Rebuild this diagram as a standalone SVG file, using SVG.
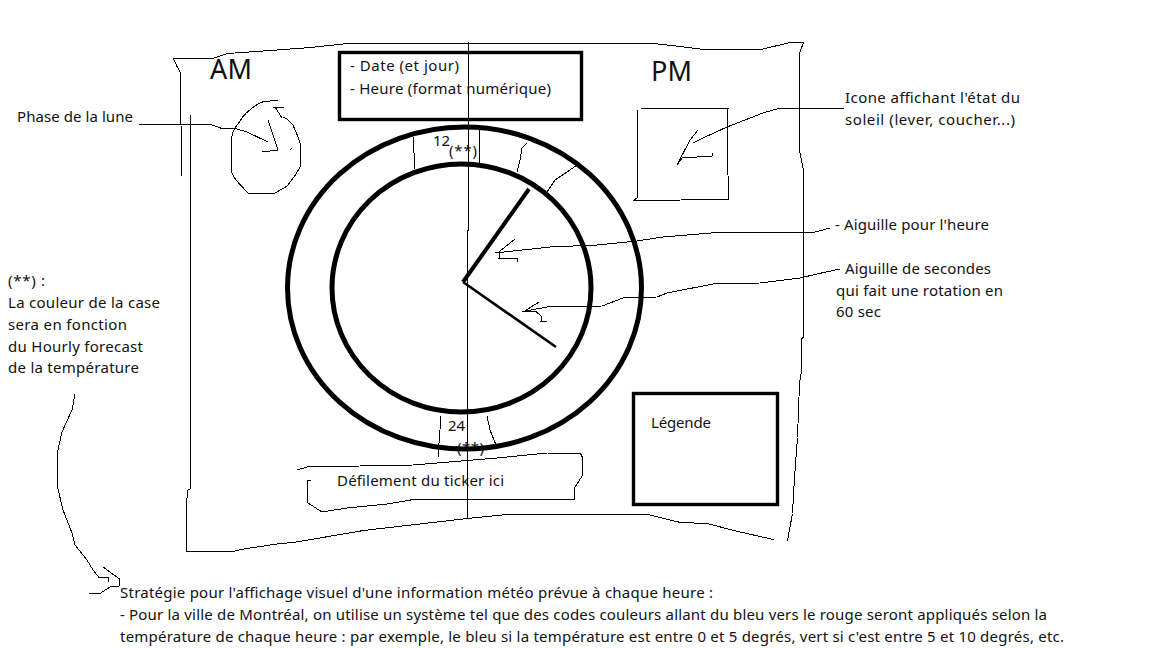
<svg xmlns="http://www.w3.org/2000/svg" width="1152" height="648" viewBox="0 0 1152 648">
<style>
.s{fill:none;stroke:#000;stroke-width:1;stroke-linejoin:round;stroke-linecap:round;shape-rendering:crispEdges}
.r{fill:none;stroke:#000;stroke-width:3.4}
.ring{fill:none;stroke:#000;stroke-width:5}
text{font-family:"Noto Sans","Open Sans","Liberation Sans",sans-serif;font-size:15px;fill:#111}
.big{font-size:27px}
</style>
<rect width="1152" height="648" fill="#fff"/>
<g id="frame">
<path class="s" d="M173.500 58.500L212.500 58.500L227.500 53.500L270.500 50.500L310.500 47.500L347.500 43.500L653.500 43.500L680.500 46.500L703.500 49.500L760.500 49.500L790.500 42.500L803.500 42.500L799.500 53.500L799.500 150.500L803.500 170.500L803.500 337.500L801.500 338.500L801.500 370.500L799.500 383.500L797.500 437.500L794.500 477.500L792.500 513.500L787.500 540.500"/>
<path class="s" d="M560.500 514.500L647.500 514.500L680.500 522.500L707.500 523.500L733.500 530.500L773.500 539.500"/>
<path class="s" d="M173.500 58.500L176.500 65.500L180.500 72.500L181.500 175.500"/>
<path class="s" d="M190.500 115.500L190.500 488.500L187.500 490.500L186.500 505.500L186.500 551.500L233.500 551.500L240.500 549.500L280.500 543.500L293.500 542.500L363.500 530.500L467.500 518.500L507.500 514.500L560.500 514.500"/>
<path class="s" d="M468.500 42.500L468.500 230.500L467.500 230.500L467.500 518.500"/>
<text class="big" x="210" y="79" textLength="42">AM</text>
<text class="big" x="651" y="81" textLength="41">PM</text>
</g>
<g id="date-box">
<rect class="r" x="339.5" y="52.5" width="242" height="67"/>
<text x="350" y="71" textLength="109">- Date (et jour)</text>
<text x="350" y="94" textLength="201">- Heure (format numérique)</text>
</g>
<g id="moon">
<path class="s" d="M278 101C270 101 263 100 258 104C250 109 244 114 240 121C237 126 232 130 232 136C231 147 232 160 232 173C234 180 243 187 248 193C256 194 266 194 275 193C280 190 285 188 288 185C293 179 297 173 300 167C301 159 300 151 300 143C298 136 295 130 293 125C290 122 287 118 283 117"/>
<path class="s" d="M273 107L284 107M275 107L282 118M290 150L292 148"/>
</g>
<g id="sun-icon">
<path class="s" d="M641.500 108.500L728.500 108.500M637.500 110.500L637.500 197.500L633.500 200.500L728.500 199.500L727.500 150.500L727.500 108.500"/>
</g>
<g id="clock">
<ellipse class="ring" cx="464.5" cy="288" rx="177" ry="161"/>
<ellipse class="ring" cx="461.5" cy="288" rx="129.5" ry="124"/>
<path class="s" d="M413.500 137.500L414.500 168.500M479.500 129.500L479.500 163.500M527 143L522 148L520 160L517 172M577 165L567 172L555 180L547 192M441 416L438 457M487 416L490 430L496 445"/>
<text x="433" y="146">12</text>
<text x="449" y="156" textLength="28">(**)</text>
<text x="448" y="431">24</text>
<text x="457" y="452.5" textLength="27">(**)</text>
</g>
<g id="hands">
<path d="M463 282L529 189" fill="none" stroke="#000" stroke-width="4"/>
<path d="M463 282L556 347" fill="none" stroke="#000" stroke-width="2.6"/>
</g>
<g id="ticker">
<path class="s" d="M297 470L307 467L413 465L497 458L547 453L580.500 453.500L582.500 457.500L582.500 475.500L575 487L574.500 499.500L413.500 499.500L387 504L347 508L322 512L308 503L307 493L308 480L311 480"/>
<text x="337" y="486" textLength="167">Défilement du ticker ici</text>
</g>
<g id="legend">
<rect class="r" x="633.5" y="393.5" width="144" height="111"/>
<text x="651" y="428" textLength="60">Légende</text>
</g>
<g id="connectors">
<path class="s" d="M139.500 124.500L210.500 124.500L222 128.500L235 128.500L247 132L268 142M268 120L278 150L262 152"/>
<path class="s" d="M843.500 108.500L778.500 108.500L763 113L727 127L703 138L693 143M698 130L690 140L677 165L682 158L712 156L713 153"/>
<path class="s" d="M830 228L813.500 232.500L717.500 232.500L663 237L637 241L597 245L550 247L495 253M515 239L500 251L499 258.500L517 258.500L518 262"/>
<path class="s" d="M840 269L817 274L800 278L760 283L713 284L667 293L657 297L623 298L602 306L547 307L523 311.500M539 302L524 311.500L536 311.500L542 317L541 321.500L547 321.500"/>
<path class="s" d="M75 394L72 410L62 432L57.500 452L57.500 487L63 510L72 533L75 545L87 560L93 570L99 577.500L108 577.500L109 582M103 567L119.500 579L119.500 586L110 587L100 593.500L89 593.500"/>
</g>
<g id="labels">
<text x="17" y="122" textLength="116">Phase de la lune</text>
<text x="845" y="103" textLength="175">Icone affichant l'état du</text>
<text x="845" y="125" textLength="170">soleil (lever, coucher...)</text>
<text x="835" y="230" textLength="154">- Aiguille pour l'heure</text>
<text x="845" y="274" textLength="146">Aiguille de secondes</text>
<text x="836" y="296" textLength="167">qui fait une rotation en</text>
<text x="836" y="317" textLength="45">60 sec</text>
</g>
<g id="note">
<text x="8" y="286" textLength="37">(**) :</text>
<text x="8" y="308" textLength="152">La couleur de la case</text>
<text x="8" y="330" textLength="119">sera en fonction</text>
<text x="8" y="352" textLength="135">du Hourly forecast</text>
<text x="8" y="373" textLength="131">de la température</text>
</g>
<g id="strategy">
<text x="120" y="598" textLength="593">Stratégie pour l'affichage visuel d'une information météo prévue à chaque heure :</text>
<text x="120" y="620" textLength="927">- Pour la ville de Montréal, on utilise un système tel que des codes couleurs allant du bleu vers le rouge seront appliqués selon la</text>
<text x="120" y="642" textLength="944">température de chaque heure : par exemple, le bleu si la température est entre 0 et 5 degrés, vert si c'est entre 5 et 10 degrés, etc.</text>
</g>
</svg>
